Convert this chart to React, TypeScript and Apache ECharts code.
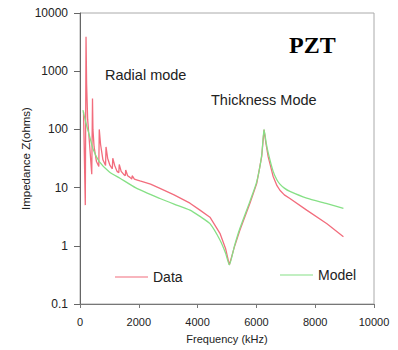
import React, { useEffect, useRef } from "react";
import * as echarts from "echarts";

const dataFreq = [120, 180, 205, 225, 260, 320, 400, 425, 440, 480, 560, 640, 655, 700, 780, 870, 885, 940, 1020, 1100, 1115, 1180, 1260, 1320, 1335, 1400, 1480, 1540, 1555, 1620, 1700, 1760, 1775, 1850, 1950, 2040, 2400, 2720, 3200, 3740, 4080, 4420, 4760, 4950, 5080, 5250, 5440, 5780, 6010, 6180, 6260, 6330, 6400, 6570, 6700, 6800, 6950, 7140, 7710, 8400, 8960];
const dataZ = [200, 5, 3900, 600, 150, 60, 17, 340, 100, 50, 28, 23, 100, 55, 30, 24, 50, 32, 24, 21, 32, 24, 19, 18, 25, 19, 17, 16, 20, 16, 15, 14, 16, 14, 13.5, 13, 11.5, 9.7, 7.5, 5.4, 4.1, 3.1, 1.64, 0.9, 0.47, 0.95, 1.86, 5.4, 11.7, 34, 98, 55, 34, 15.5, 10.8, 9.0, 7.5, 6.5, 4.1, 2.4, 1.43];

const modelFreq = [100, 200, 316, 450, 656, 1000, 1360, 1900, 2720, 3200, 3740, 4080, 4420, 4760, 4950, 5080, 5250, 5440, 5780, 6010, 6180, 6260, 6330, 6400, 6570, 6700, 6800, 6950, 7140, 7710, 8400, 8960];
const modelZ = [215, 130, 80, 45, 28, 18.6, 14.5, 9.9, 6.5, 5.2, 4.1, 3.2, 2.4, 1.26, 0.75, 0.47, 0.98, 2.0, 5.8, 12.5, 36, 100, 60, 40, 19, 13.5, 11.5, 9.8, 8.6, 6.6, 5.3, 4.4];

const yTickLabels = ["0.1", "1", "10", "100", "1000", "10000"];
const xTickLabels = ["0", "2000", "4000", "6000", "8000", "10000"];

export default function App() {
  const ref = useRef<HTMLDivElement>(null);
  useEffect(() => {
    if (!ref.current) return;
    const chart = echarts.init(ref.current, null, { renderer: "svg" });
    const font = "'Liberation Sans', Arial, sans-serif";
    chart.setOption({
      animation: false,
      backgroundColor: "#ffffff",
      grid: { left: 80, right: 24, top: 13, bottom: 46, show: true, borderColor: "#aaaaaa", borderWidth: 1 },
      xAxis: {
        type: "value",
        min: 0,
        max: 10000,
        interval: 2000,
        name: "Frequency (kHz)",
        nameLocation: "middle",
        nameGap: 29,
        nameMoveOverlap: false,
        nameTextStyle: { fontFamily: font, fontSize: 11, color: "#222" },
        axisLine: { show: true, lineStyle: { color: "#777" } },
        axisTick: { show: true, inside: false, length: 4, lineStyle: { color: "#777" } },
        axisLabel: {
          margin: 12,
          fontFamily: font,
          fontSize: 11,
          color: "#222",
          formatter: (v: number) => xTickLabels[Math.round(v / 2000)] ?? String(v),
        },
        splitLine: { show: false },
      },
      yAxis: {
        type: "log",
        logBase: 10,
        min: 0.1,
        max: 10000,
        name: "Impedance Z(ohms)",
        nameLocation: "middle",
        nameGap: 48,
        nameMoveOverlap: false,
        nameTextStyle: { fontFamily: font, fontSize: 11.5, color: "#222" },
        axisLine: { show: true, lineStyle: { color: "#666" } },
        axisTick: { show: true, inside: false, length: 6, lineStyle: { color: "#666" } },
        axisLabel: {
          margin: 12,
          fontFamily: font,
          fontSize: 12,
          color: "#222",
          formatter: (v: number) => yTickLabels[Math.round(Math.log10(v)) + 1] ?? String(v),
        },
        splitLine: { show: false },
        minorTick: { show: false },
      },
      legend: [
        {
          data: ["Data"],
          left: 110,
          top: 265,
          itemWidth: 33,
          itemHeight: 14,
          icon: "path://M0,6 L33,6 L33,7 L0,7 Z",
          textStyle: { fontFamily: font, fontSize: 14, color: "#222", padding: [0, 0, 0, 0] },
        },
        {
          data: ["Model"],
          left: 275,
          top: 263,
          itemWidth: 33,
          itemHeight: 14,
          icon: "path://M0,6 L33,6 L33,7 L0,7 Z",
          textStyle: { fontFamily: font, fontSize: 14, color: "#222", padding: [0, 0, 0, 0] },
        },
      ],
      series: [
        {
          name: "Data",
          type: "line",
          symbol: "none",
          color: "#f26d7d",
          lineStyle: { width: 1.3, color: "#f26d7d" },
          data: dataFreq.map((f, i) => [f, dataZ[i]]),
        },
        {
          name: "Model",
          type: "line",
          symbol: "none",
          smooth: 0.2,
          color: "#86e086",
          lineStyle: { width: 1.3, color: "#86e086" },
          data: modelFreq.map((f, i) => [f, modelZ[i]]),
        },
      ],
      graphic: [
        {
          type: "text",
          left: 289,
          top: 33,
          style: { text: "PZT", font: "bold 24px 'Liberation Serif', 'Times New Roman', serif", fill: "#000" },
        },
        {
          type: "text",
          left: 105,
          top: 67,
          style: { text: "Radial mode", font: `14.5px ${font}`, fill: "#222" },
        },
        {
          type: "text",
          left: 211,
          top: 92,
          style: { text: "Thickness Mode", font: `14.5px ${font}`, fill: "#222" },
        },
      ],
    });
    return () => chart.dispose();
  }, []);
  return <div ref={ref} style={{ position: "fixed", left: 0, top: 0, width: 398, height: 350 }} />;
}
